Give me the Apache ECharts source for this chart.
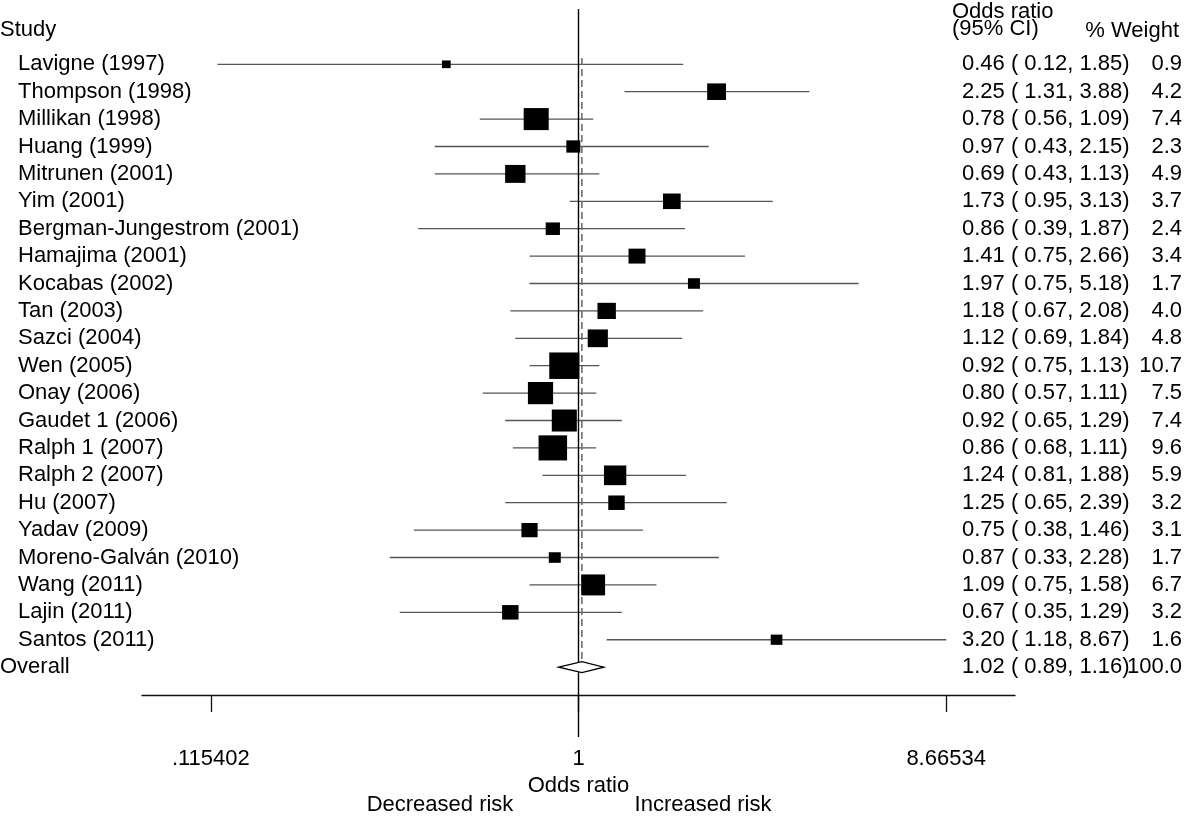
<!DOCTYPE html>
<html>
<head>
<meta charset="utf-8">
<script src="https://cdn.jsdelivr.net/npm/echarts@6/dist/echarts.min.js"></script>
<style>html,body{margin:0;padding:0;background:#fff}#chart{width:1200px;height:819px}</style>
</head>
<body>
<div id="chart"></div>
<script>
const studies = ['Lavigne (1997)','Thompson (1998)','Millikan (1998)','Huang (1999)','Mitrunen (2001)','Yim (2001)','Bergman-Jungestrom (2001)','Hamajima (2001)','Kocabas (2002)','Tan (2003)','Sazci (2004)','Wen (2005)','Onay (2006)','Gaudet 1 (2006)','Ralph 1 (2007)','Ralph 2 (2007)','Hu (2007)','Yadav (2009)','Moreno-Galván (2010)','Wang (2011)','Lajin (2011)','Santos (2011)'];
const orValues = [0.46,2.25,0.78,0.97,0.69,1.73,0.86,1.41,1.97,1.18,1.12,0.92,0.80,0.92,0.86,1.24,1.25,0.75,0.87,1.09,0.67,3.20];
const loValues = [0.12,1.31,0.56,0.43,0.43,0.95,0.39,0.75,0.75,0.67,0.69,0.75,0.57,0.65,0.68,0.81,0.65,0.38,0.33,0.75,0.35,1.18];
const hiValues = [1.85,3.88,1.09,2.15,1.13,3.13,1.87,2.66,5.18,2.08,1.84,1.13,1.11,1.29,1.11,1.88,2.39,1.46,2.28,1.58,1.29,8.67];
const weights  = [0.9,4.2,7.4,2.3,4.9,3.7,2.4,3.4,1.7,4.0,4.8,10.7,7.5,7.4,9.6,5.9,3.2,3.1,1.7,6.7,3.2,1.6];
const overallName = 'Overall';
const overallOR = 1.02, overallLo = 0.89, overallHi = 1.16, overallWeight = 100.0;
const tickValues = [0.115402, 1, 8.66534];
const tickLabels = ['.115402', '1', '8.66534'];

const FONT = 'Liberation Sans';
const FS = 22;
const FONTCSS = FS + 'px "Liberation Sans"';
const LN = v => Math.log(v);
const n = studies.length;
const allNames = studies.concat([overallName]);
const allOR = orValues.concat([overallOR]);
const allLo = loValues.concat([overallLo]);
const allHi = hiValues.concat([overallHi]);
const allW = weights.concat([overallWeight]);
const rowIdx = allNames.map((_, i) => i);
const pad5 = v => { const s = v.toFixed(2); return ' '.repeat(Math.max(0, 5 - s.length)) + s; };
const ciText = i => allOR[i].toFixed(2) + ' (' + pad5(allLo[i]) + ',' + pad5(allHi[i]) + ')';
const tickLn = tickValues.map(LN);

const yBase = { type: 'value', inverse: true, min: -2.018, max: 24.55, axisLine: {show: false}, axisTick: {show: false}, splitLine: {show: false} };
const txt = {fontSize: FS, fontFamily: FONT, color: '#000'};

const chart = echarts.init(document.getElementById('chart'), null, {renderer: 'canvas'});
chart.setOption({
  animation: false,
  backgroundColor: '#fff',
  grid: {left: 142, right: 185, top: 9, bottom: 82, containLabel: false, outerBoundsMode: 'none'},
  xAxis: {
    type: 'value', min: -2.5637, max: 2.5637, offset: -42,
    axisLine: {show: true, onZero: false, lineStyle: {color: '#111', width: 1.3}},
    axisTick: {show: true, customValues: tickLn, length: 17, lineStyle: {color: '#111', width: 1.3}},
    axisLabel: Object.assign({customValues: tickLn, margin: 53,
      formatter: v => { const k = tickLn.findIndex(t => Math.abs(t - v) < 1e-6); return k >= 0 ? tickLabels[k] : ''; }}, txt),
    splitLine: {show: false},
    name: 'Odds ratio', nameLocation: 'middle', nameGap: 77,
    nameTextStyle: txt
  },
  yAxis: [
    Object.assign({}, yBase, {position: 'left', axisLabel: Object.assign({customValues: rowIdx, align: 'left', margin: 142,
      formatter: v => { const i = Math.round(v); return i === n ? '{o|' + allNames[i] + '}' : '{s|' + allNames[i] + '}'; },
      rich: {s: Object.assign({padding: [0, 0, 0, 18]}, txt), o: Object.assign({}, txt)}}, txt)}),
    Object.assign({}, yBase, {position: 'right', axisLabel: Object.assign({customValues: rowIdx, align: 'left', margin: -53,
      formatter: v => ciText(Math.round(v))}, txt)}),
    Object.assign({}, yBase, {position: 'right', axisLabel: Object.assign({customValues: rowIdx, align: 'right', margin: 167,
      formatter: v => allW[Math.round(v)].toFixed(1)}, txt)})
  ],
  series: [
    {
      type: 'custom', name: 'ci', yAxisIndex: 0, z: 2,
      data: studies.map((s, i) => [i, LN(loValues[i]), LN(hiValues[i])]),
      encode: {x: [1, 2], y: 0},
      renderItem: (params, api) => {
        const p1 = api.coord([api.value(1), api.value(0)]);
        const p2 = api.coord([api.value(2), api.value(0)]);
        return {type: 'line', shape: {x1: p1[0], y1: p1[1], x2: p2[0], y2: p2[1]}, style: {stroke: '#555', lineWidth: 1.3}};
      },
      markLine: {silent: true, symbol: 'none', label: {show: false}, lineStyle: {color: '#000', width: 1.4, type: 'solid', opacity: 1},
        data: [{xAxis: LN(1)}]}
    },
    {
      type: 'scatter', name: 'or', yAxisIndex: 0, z: 4,
      data: studies.map((s, i) => [LN(orValues[i]), i, weights[i]]),
      symbol: 'rect',
      symbolSize: val => [9.2 * Math.sqrt(val[2]), 8.1 * Math.sqrt(val[2])],
      itemStyle: {color: '#000', opacity: 1}
    },
    {
      type: 'line', name: 'pooled', yAxisIndex: 0, z: 3, symbol: 'none',
      data: [[LN(overallOR), -0.23], [LN(overallOR), n + 0.2]],
      lineStyle: {color: '#6e6e6e', width: 1.6, type: [7, 4]}
    },
    {
      type: 'custom', name: 'diamond', yAxisIndex: 0, z: 5,
      data: [[n, LN(overallOR), LN(overallLo), LN(overallHi)]],
      encode: {x: [1, 2, 3], y: 0},
      renderItem: (params, api) => {
        const r = api.value(0);
        const pts = [
          api.coord([api.value(2), r]),
          api.coord([api.value(1), r - 0.2]),
          api.coord([api.value(3), r]),
          api.coord([api.value(1), r + 0.2])
        ];
        return {type: 'polygon', shape: {points: pts}, style: {fill: '#fff', stroke: '#000', lineWidth: 1.3}};
      }
    }
  ],
  graphic: [
    {type: 'text', x: 0, y: 30, style: {text: 'Study', font: FONTCSS, fill: '#000', textAlign: 'left', textVerticalAlign: 'middle', align: 'left', verticalAlign: 'middle'}},
    {type: 'text', x: 952, y: 12, style: {text: 'Odds ratio', font: FONTCSS, fill: '#000', textAlign: 'left', textVerticalAlign: 'middle', align: 'left', verticalAlign: 'middle'}},
    {type: 'text', x: 952, y: 29, style: {text: '(95% CI)', font: FONTCSS, fill: '#000', textAlign: 'left', textVerticalAlign: 'middle', align: 'left', verticalAlign: 'middle'}},
    {type: 'text', x: 1179, y: 31, style: {text: '% Weight', font: FONTCSS, fill: '#000', textAlign: 'right', textVerticalAlign: 'middle', align: 'right', verticalAlign: 'middle'}},
    {type: 'text', x: 440, y: 805, style: {text: 'Decreased risk', font: FONTCSS, fill: '#000', textAlign: 'center', textVerticalAlign: 'middle', align: 'center', verticalAlign: 'middle'}},
    {type: 'text', x: 703, y: 805, style: {text: 'Increased risk', font: FONTCSS, fill: '#000', textAlign: 'center', textVerticalAlign: 'middle', align: 'center', verticalAlign: 'middle'}}
  ]
});
</script>
</body>
</html>
